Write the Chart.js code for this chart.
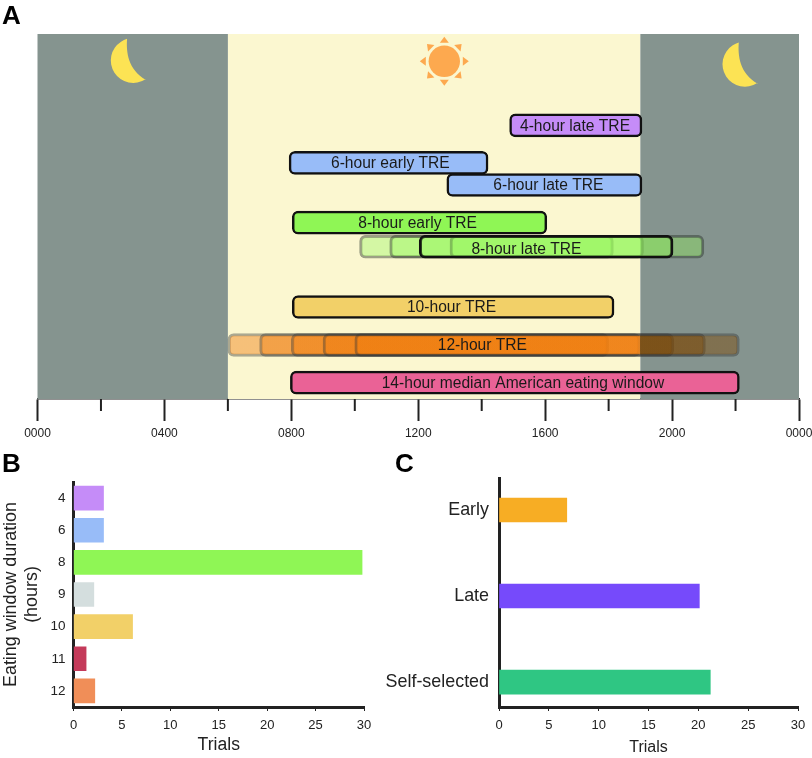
<!DOCTYPE html>
<html>
<head>
<meta charset="utf-8">
<script src="https://cdn.jsdelivr.net/npm/chart.js@4"></script>
<style>
  body { margin: 0; background: #fff; width: 812px; height: 758px; position: relative; overflow: hidden; }
  canvas { position: absolute; }
  .panel { position: absolute; font: bold 26px "Liberation Sans", sans-serif; color: #000; line-height: 26px; }
</style>
</head>
<body>
<canvas id="chartA" width="812" height="445" style="left:0px;top:0px"></canvas>
<canvas id="chartB" width="390" height="288" style="left:0px;top:470px"></canvas>
<canvas id="chartC" width="432" height="298" style="left:380px;top:460px"></canvas>
<div class="panel" style="left:2px;top:2px">A</div>
<div class="panel" style="left:2px;top:450px">B</div>
<div class="panel" style="left:395px;top:450px">C</div>
<script>
// panel A: eating windows, hours of the day
const hourLabels = ['0000', '0400', '0800', '1200', '1600', '2000', '0000'];
const nightSpans = [[0, 6], [19, 24]];
const daySpan = [6, 19];

const windowNames = ['4-hour late TRE', '6-hour early TRE', '6-hour late TRE', '8-hour early TRE', '10-hour TRE', '14-hour median American eating window'];
const windowStarts = [14.88, 7.93, 12.9, 8.03, 8.03, 7.97];
const windowEnds = [19.05, 14.2, 19.05, 16.05, 18.17, 22.12];
const windowLanes = [0, 1.79, 2.84, 4.63, 8.65, 12.25];
const windowColors = ['#c58cf8', '#98bcf8', '#98bcf8', '#8ff655', '#f2d068', '#ea6296'];
const windowTextHours = [16.94, 11.12, 16.1, 11.98, 13.05, 15.3];

const late8Starts = [10.15, 11.1, 13, 12.03];
const late8Ends = [18.15, 19.1, 21, 20.03];
const late8Lane = 5.78;
const late8TextHour = 15.41;

const noon12Starts = [6, 7, 8, 9, 10];
const noon12Ends = [18, 19, 20.05, 21.05, 22.12];
const noon12Lane = 10.46;
const noon12TextHour = 14.02;

// panel B
const durations = ['4', '6', '8', '9', '10', '11', '12'];
const durationTrials = [3.1, 3.1, 29.8, 2.1, 6.1, 1.3, 2.2];
const durationColors = ['#c58cf8', '#98bcf8', '#8ff655', '#d4dede', '#f2d068', '#c43a5a', '#f08e58'];

// panel C
const timings = ['Early', 'Late', 'Self-selected'];
const timingTrials = [6.8, 20.1, 21.2];
const timingColors = ['#f7ad24', '#764afb', '#2fc683'];

const sans = '"Liberation Sans", Arial, sans-serif';
Chart.defaults.font.family = sans;
Chart.defaults.color = '#222';

const xy = (starts, ends, lanes) => starts.map((s, i) => ({ x: [s, ends[i]], y: Array.isArray(lanes) ? lanes[i] : lanes }));

const dayNight = {
  id: 'dayNight',
  beforeDatasetsDraw(chart) {
    const { ctx, chartArea: a, scales: { x } } = chart;
    ctx.save();
    ctx.fillStyle = '#fbf7d0';
    ctx.fillRect(x.getPixelForValue(daySpan[0]), a.top, x.getPixelForValue(daySpan[1]) - x.getPixelForValue(daySpan[0]), a.height);
    ctx.fillStyle = '#85948f';
    nightSpans.forEach(n => {
      ctx.fillRect(x.getPixelForValue(n[0]), a.top, x.getPixelForValue(n[1]) - x.getPixelForValue(n[0]), a.height);
    });
    ctx.restore();
  }
};

function moon(ctx, dx, dy) {
  ctx.beginPath();
  ctx.arc(133.3 + dx, 60.5 + dy, 22.5, 57 * Math.PI / 180, 254 * Math.PI / 180);
  ctx.bezierCurveTo(126 + dx, 52 + dy, 128 + dx, 70 + dy, 146 + dx, 80 + dy);
  ctx.closePath();
  ctx.fill();
}

function sun(ctx, cx, cy) {
  ctx.beginPath();
  ctx.arc(cx, cy, 15.7, 0, Math.PI * 2);
  ctx.fill();
  for (let k = 0; k < 8; k++) {
    ctx.save();
    ctx.translate(cx, cy);
    ctx.rotate(k * Math.PI / 4);
    ctx.beginPath();
    ctx.moveTo(0, -24.5);
    ctx.lineTo(4.5, -18.5);
    ctx.lineTo(-4.5, -18.5);
    ctx.closePath();
    ctx.fill();
    ctx.restore();
  }
}

const windowText = {
  id: 'windowText',
  afterDatasetsDraw(chart) {
    const { ctx, scales: { x, y } } = chart;
    ctx.save();
    ctx.font = '15.6px ' + sans;
    ctx.fillStyle = '#1a1a1a';
    ctx.textAlign = 'center';
    ctx.textBaseline = 'middle';
    windowNames.forEach((name, i) => {
      ctx.fillText(name, x.getPixelForValue(windowTextHours[i]), y.getPixelForValue(windowLanes[i]) + 1);
    });
    ctx.fillText('8-hour late TRE', x.getPixelForValue(late8TextHour), y.getPixelForValue(late8Lane) + 3);
    ctx.fillText('12-hour TRE', x.getPixelForValue(noon12TextHour), y.getPixelForValue(noon12Lane) + 1);
    ctx.fillStyle = '#fce354';
    moon(ctx, 0, 0);
    moon(ctx, 611.7, 3.7);
    ctx.fillStyle = '#fda94f';
    sun(ctx, 444.3, 61.3);
    // the shorter two-hour ticks
    ctx.strokeStyle = '#222';
    ctx.lineWidth = 2;
    x.ticks.forEach(t => {
      if (t.value % 4 !== 0) {
        const px = x.getPixelForValue(t.value);
        ctx.beginPath();
        ctx.moveTo(px, x.top);
        ctx.lineTo(px, x.top + 12);
        ctx.stroke();
      }
    });
    ctx.restore();
  }
};

const noLabelOverflow = s => { s.paddingLeft = 0; s.paddingRight = 0; s.paddingTop = 0; s.paddingBottom = 0; };

// orange reads as a darker brown where it lies over the night band
function orangeFill(c) {
  const a = c.chart.chartArea;
  if (!a) return 'rgba(239,122,10,0.44)';
  const g = c.chart.ctx.createLinearGradient(a.left, 0, a.right, 0);
  g.addColorStop(0, 'rgba(239,122,10,0.44)');
  g.addColorStop(19 / 24, 'rgba(239,122,10,0.44)');
  g.addColorStop(19 / 24, 'rgba(122,68,0,0.44)');
  g.addColorStop(1, 'rgba(122,68,0,0.44)');
  return g;
}

new Chart(document.getElementById('chartA'), {
  type: 'bar',
  plugins: [dayNight, windowText],
  data: {
    datasets: [{
      data: xy(windowStarts, windowEnds, windowLanes),
      backgroundColor: windowColors,
      borderColor: '#111',
      borderWidth: 2.5,
      borderRadius: 6,
      borderSkipped: false,
      barThickness: 23,
      grouped: false
    }, {
      data: xy(late8Starts, late8Ends, late8Lane),
      backgroundColor: 'rgba(143,246,85,0.36)',
      borderColor: ['rgba(40,50,40,0.45)', 'rgba(40,50,40,0.45)', 'rgba(40,50,40,0.45)', '#111'],
      borderWidth: 2.5,
      borderRadius: 6,
      borderSkipped: false,
      barThickness: 23,
      grouped: false
    }, {
      data: xy(noon12Starts, noon12Ends, noon12Lane),
      backgroundColor: orangeFill,
      borderColor: 'rgba(50,50,50,0.4)',
      borderWidth: 2.5,
      borderRadius: 6,
      borderSkipped: false,
      barThickness: 23,
      grouped: false
    }]
  },
  options: {
    indexAxis: 'y',
    responsive: false,
    animation: false,
    layout: { padding: { left: 37.5, right: 13, top: 34, bottom: 0 } },
    plugins: { legend: { display: false }, tooltip: { enabled: false } },
    scales: {
      x: {
        type: 'linear',
        min: 0,
        max: 24,
        afterFit(s) { s.height = 46; noLabelOverflow(s); },
        border: { color: '#222', width: 1.5 },
        grid: {
          drawOnChartArea: false,
          tickLength: 22,
          tickWidth: 2,
          tickColor: c => (c.tick.value % 4 === 0 ? '#222' : 'transparent')
        },
        ticks: {
          stepSize: 2,
          autoSkip: false,
          maxRotation: 0,
          padding: 5,
          font: { size: 12 },
          color: '#222',
          callback: v => (v % 4 === 0 ? hourLabels[v / 4] : '')
        }
      },
      y: { type: 'linear', display: false, offset: false, reverse: true, min: -4.348, max: 13.03 }
    }
  }
});

new Chart(document.getElementById('chartB'), {
  type: 'bar',
  data: {
    labels: durations,
    datasets: [{ data: durationTrials, backgroundColor: durationColors, barThickness: 24 }]
  },
  options: {
    indexAxis: 'y',
    responsive: false,
    animation: false,
    layout: { padding: { left: 0, right: 26, top: 12, bottom: 0 } },
    plugins: { legend: { display: false }, tooltip: { enabled: false } },
    scales: {
      x: {
        min: 0,
        max: 30,
        afterFit(s) { s.height = 51; noLabelOverflow(s); },
        border: { color: '#222', width: 3 },
        grid: { drawOnChartArea: false, tickLength: 4, tickColor: '#222', tickWidth: 1 },
        ticks: { stepSize: 5, maxRotation: 0, padding: 7, font: { size: 13 }, color: '#222' },
        title: { display: true, text: 'Trials', font: { size: 17.6 }, color: '#222', padding: { top: 5, bottom: 2 } }
      },
      y: {
        afterFit(s) { s.width = 73.5; noLabelOverflow(s); },
        border: { color: '#222', width: 3 },
        grid: { display: false, drawTicks: false },
        ticks: { padding: 8, font: { size: 13.5 }, color: '#222', autoSkip: false },
        title: { display: true, text: ['Eating window duration', '(hours)'], font: { size: 17.9 }, color: '#222', padding: 0 }
      }
    }
  }
});

new Chart(document.getElementById('chartC'), {
  type: 'bar',
  data: {
    datasets: [{ data: timingTrials.map((v, i) => ({ x: v, y: i })), backgroundColor: timingColors, barThickness: 24 }]
  },
  options: {
    indexAxis: 'y',
    responsive: false,
    animation: false,
    layout: { padding: { left: 0, right: 14, top: 18, bottom: 0 } },
    plugins: { legend: { display: false }, tooltip: { enabled: false } },
    scales: {
      x: {
        type: 'linear',
        min: 0,
        max: 30,
        afterFit(s) { s.height = 51; noLabelOverflow(s); },
        border: { color: '#222', width: 3 },
        grid: { drawOnChartArea: false, tickLength: 4, tickColor: '#222', tickWidth: 1 },
        ticks: { stepSize: 5, maxRotation: 0, padding: 7, font: { size: 13 }, color: '#222' },
        title: { display: true, text: 'Trials', font: { size: 16 }, color: '#222', padding: { top: 6, bottom: 1 } }
      },
      y: {
        type: 'linear',
        reverse: true,
        offset: false,
        min: -0.372,
        max: 2.29,
        afterFit(s) { s.width = 119; noLabelOverflow(s); },
        afterBuildTicks(s) { s.ticks = timings.map((t, i) => ({ value: i })); },
        border: { color: '#222', width: 3 },
        grid: { display: false, drawTicks: false },
        ticks: { padding: 10, font: { size: 17.9 }, color: '#222', callback: v => timings[v] }
      }
    }
  }
});
</script>
</body>
</html>
